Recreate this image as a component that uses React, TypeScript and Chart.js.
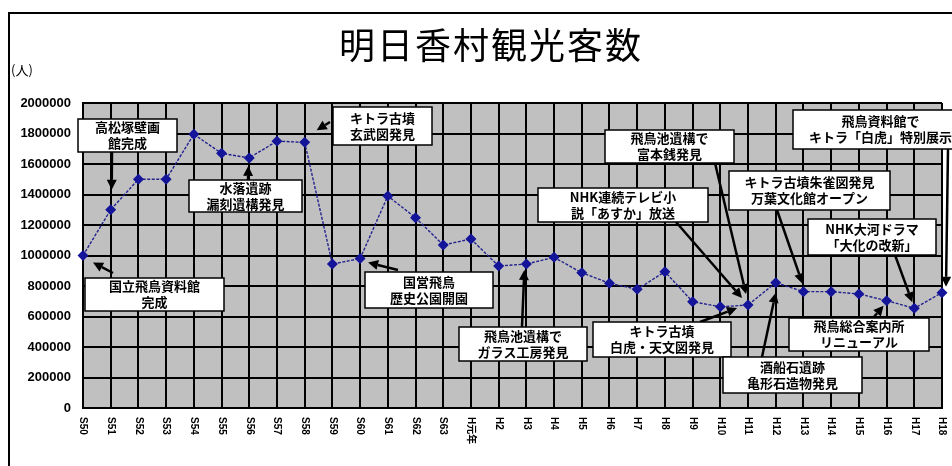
import React, { useEffect, useRef } from "react";
import { Chart, registerables } from "chart.js";

Chart.register(...registerables);

// ---- data ----
const chartTitle = "明日香村観光客数";
const unitLabel = "(人)";
const years = [
  "S50", "S51", "S52", "S53", "S54", "S55", "S56", "S57", "S58", "S59",
  "S60", "S61", "S62", "S63", "H元年", "H2", "H3", "H4", "H5", "H6",
  "H7", "H8", "H9", "H10", "H11", "H12", "H13", "H14", "H15", "H16",
  "H17", "H18",
];
const visitors = [
  1000000, 1300000, 1500000, 1500000, 1795000, 1670000, 1640000, 1750000, 1742000,
  944000, 980000, 1390000, 1248000, 1069000,
  1108000, 931000, 944000, 988000,
  887000, 818000, 778000, 894000, 697000, 664000, 675000,
  822000, 763000, 763000, 748000, 704000, 654000, 756000,
];
const yMin = 0;
const yMax = 2000000;
const yStep = 200000;

const eventTexts: string[][] = [
  ["高松塚壁画", "館完成"],
  ["国立飛鳥資料館", "完成"],
  ["水落遺跡", "漏刻遺構発見"],
  ["キトラ古墳", "玄武図発見"],
  ["国営飛鳥", "歴史公園開園"],
  ["飛鳥池遺構で", "ガラス工房発見"],
  ["キトラ古墳", "白虎・天文図発見"],
  ["NHK連続テレビ小", "説「あすか」放送"],
  ["飛鳥池遺構で", "富本銭発見"],
  ["キトラ古墳朱雀図発見", "万葉文化館オープン"],
  ["NHK大河ドラマ", "「大化の改新」"],
  ["飛鳥資料館で", "キトラ「白虎」特別展示"],
  ["酒船石遺跡", "亀形石造物発見"],
  ["飛鳥総合案内所", "リニューアル"],
];
const eventYears = [
  "S51", "S50", "S56", "S58", "S60", "H3", "H11", "H11", "H11", "H13", "H17", "H18", "H12", "H16",
];

// ---- layout of annotation boxes (pixels) ----
type Lay = { box: [number, number, number, number]; tail: [number, number]; tip: [number, number] };
const eventLayout: Lay[] = [
  { box: [78, 119, 99, 33], tail: [112, 152], tip: [1, -20] },
  { box: [85, 278, 139, 33], tail: [113, 273], tip: [10, 7] },
  { box: [189, 180, 113, 32], tail: [248, 180], tip: [-1, 8] },
  { box: [333, 107, 99, 38], tail: [330, 122], tip: [12, -12] },
  { box: [365, 272, 128, 36], tail: [398, 270], tip: [8, 4] },
  { box: [459, 327, 128, 34], tail: [522, 327], tip: [-2, 6] },
  { box: [593, 322, 138, 35], tail: [700, 322], tip: [-11, 3] },
  { box: [538, 188, 170, 34], tail: [676, 222], tip: [-6, -7] },
  { box: [605, 130, 129, 33], tail: [715, 163], tip: [-2, -11] },
  { box: [729, 171, 161, 39], tail: [777, 210], tip: [-1, -8] },
  { box: [808, 219, 128, 36], tail: [895, 255], tip: [-2, -6] },
  { box: [793, 110, 175, 39], tail: [948, 149], tip: [4, -6] },
  { box: [723, 357, 139, 36], tail: [762, 357], tip: [0, 10] },
  { box: [789, 318, 140, 33], tail: [873, 318], tip: [-3, 5] },
];

const JP = '"Noto Sans CJK JP", "Liberation Sans", sans-serif';

function drawArrow(ctx: CanvasRenderingContext2D, x1: number, y1: number, x2: number, y2: number) {
  const ang = Math.atan2(y2 - y1, x2 - x1);
  const headLen = 10;
  const headW = 5;
  const bx = x2 - headLen * Math.cos(ang);
  const by = y2 - headLen * Math.sin(ang);
  ctx.save();
  ctx.strokeStyle = "#000";
  ctx.fillStyle = "#000";
  ctx.lineWidth = 2.5;
  ctx.beginPath();
  ctx.moveTo(x1, y1);
  ctx.lineTo(bx, by);
  ctx.stroke();
  ctx.beginPath();
  ctx.moveTo(x2, y2);
  ctx.lineTo(bx + headW * Math.sin(ang), by - headW * Math.cos(ang));
  ctx.lineTo(bx - headW * Math.sin(ang), by + headW * Math.cos(ang));
  ctx.closePath();
  ctx.fill();
  ctx.restore();
}

const decorPlugin = {
  id: "decor",
  beforeDraw(chart: any) {
    const { ctx, chartArea } = chart;
    ctx.save();
    ctx.fillStyle = "#ffffff";
    ctx.fillRect(0, 0, chart.width, chart.height);
    ctx.fillStyle = "#c0c0c0";
    ctx.fillRect(chartArea.left, chartArea.top, chartArea.right - chartArea.left, chartArea.bottom - chartArea.top);
    ctx.restore();
  },
  afterDraw(chart: any) {
    const { ctx, chartArea } = chart;
    const xs = chart.scales.x;
    const ys = chart.scales.y;
    ctx.save();
    // frame
    ctx.strokeStyle = "#000";
    ctx.lineWidth = 2;
    ctx.beginPath();
    ctx.moveTo(9, chart.height);
    ctx.lineTo(9, 13);
    ctx.lineTo(chart.width, 13);
    ctx.stroke();
    // title
    ctx.fillStyle = "#000";
    ctx.font = `36px ${JP}`;
    ctx.textAlign = "center";
    ctx.textBaseline = "middle";
    (ctx as any).letterSpacing = "2px";
    ctx.fillText(chartTitle, 491, 45);
    (ctx as any).letterSpacing = "0px";
    // unit
    ctx.font = `13px ${JP}`;
    ctx.textAlign = "left";
    ctx.fillText(unitLabel, 11, 70);
    // x labels rotated clockwise
    ctx.font = `bold 10px "Liberation Sans", "Noto Sans CJK JP", sans-serif`;
    years.forEach((lab, i) => {
      const x = xs.getPixelForValue(i);
      ctx.save();
      ctx.translate(x, chartArea.bottom + 9);
      ctx.rotate(Math.PI / 2);
      ctx.textAlign = "left";
      ctx.textBaseline = "middle";
      ctx.fillText(lab, 0, 0);
      ctx.restore();
    });
    // annotation arrows
    eventTexts.forEach((_, k) => {
      const idx = years.indexOf(eventYears[k]);
      const px = xs.getPixelForValue(idx);
      const py = ys.getPixelForValue(visitors[idx]);
      const L = eventLayout[k];
      drawArrow(ctx, L.tail[0], L.tail[1], px + L.tip[0], py + L.tip[1]);
    });
    // annotation boxes
    eventTexts.forEach((lines, k) => {
      const L = eventLayout[k];
      const [bx, by, bw, bh] = L.box;
      ctx.fillStyle = "#fff";
      ctx.fillRect(bx, by, bw, bh);
      ctx.strokeStyle = "#000";
      ctx.lineWidth = 1.5;
      ctx.strokeRect(bx, by, bw, bh);
      ctx.fillStyle = "#000";
      ctx.font = `bold 13px ${JP}`;
      ctx.textAlign = "center";
      ctx.textBaseline = "middle";
      const cx = bx + bw / 2;
      const cy = by + bh / 2;
      ctx.fillText(lines[0], cx, cy - 8);
      ctx.fillText(lines[1], cx, cy + 8);
    });
    ctx.restore();
  },
};

export default function App() {
  const ref = useRef<HTMLCanvasElement | null>(null);
  useEffect(() => {
    document.body.style.margin = "0";
    const canvas = ref.current;
    if (!canvas) return;
    const chart = new Chart(canvas, {
      type: "line",
      data: {
        labels: years,
        datasets: [
          {
            data: visitors,
            borderColor: "#22228f",
            borderWidth: 1.4,
            borderDash: [3, 1.5],
            pointStyle: "rectRot",
            pointRadius: 4.5,
            pointBackgroundColor: "#15159a",
            pointBorderColor: "#15159a",
            tension: 0,
          },
        ],
      },
      options: {
        responsive: false,
        animation: false,
        events: [],
        layout: { padding: { left: 8, top: 103, right: 10, bottom: 0 } },
        plugins: { legend: { display: false }, tooltip: { enabled: false }, title: { display: false } },
        scales: {
          x: {
            type: "category",
            offset: false,
            ticks: { display: false },
            grid: { color: "#000", lineWidth: 2, drawTicks: false },
            border: { color: "#000", width: 2 },
            afterFit: (s: any) => {
              s.height = 58;
            },
          },
          y: {
            min: yMin,
            max: yMax,
            ticks: {
              stepSize: yStep,
              color: "#000",
              padding: 12,
              font: { family: "Liberation Sans", size: 13, weight: "bold" },
              callback: (v: any) => String(v),
            },
            grid: { color: "#000", lineWidth: 2, drawTicks: false },
            border: { color: "#000", width: 2 },
            afterFit: (s: any) => {
              s.width = 75;
            },
          },
        },
      },
      plugins: [decorPlugin],
    });
    return () => chart.destroy();
  }, []);
  return <canvas ref={ref} width={952} height={466} style={{ display: "block" }} />;
}
